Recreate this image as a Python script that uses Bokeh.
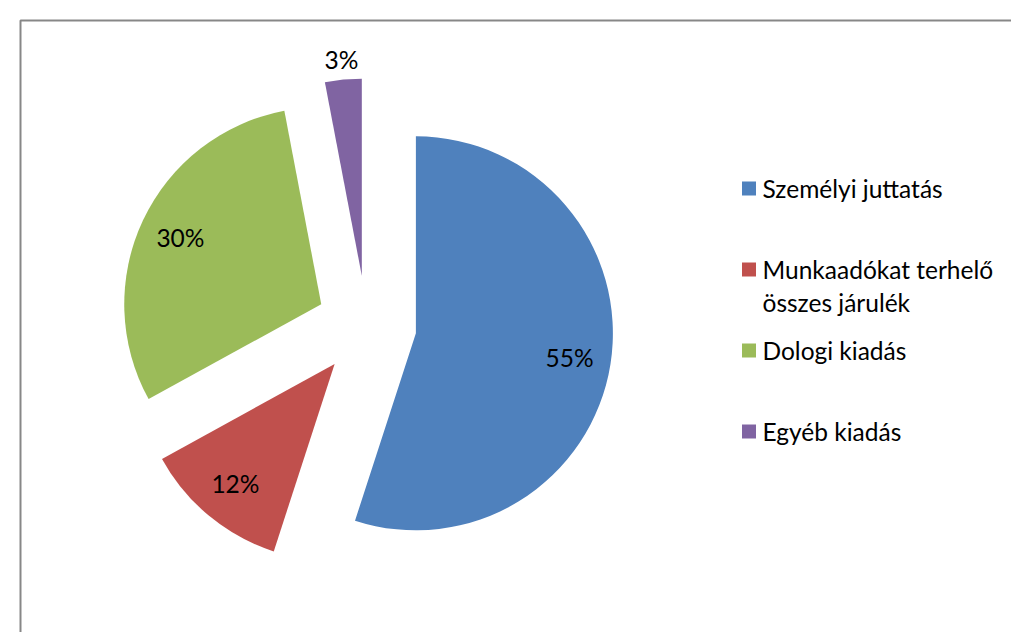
import math
import textwrap
from bokeh.plotting import figure
from bokeh.models import Range1d, ColumnDataSource
from bokeh.core.properties import value
from bokeh.embed import file_html
from bokeh.resources import INLINE

# ---- data ----
categories = ["Személyi juttatás", "Munkaadókat terhelő összes járulék", "Dologi kiadás", "Egyéb kiadás"]
shares = [55, 12, 30, 3]
share_labels = ["55%", "12%", "30%", "3%"]
colors = ["#4F81BD", "#C0504D", "#9BBB59", "#8064A2"]

W, H = 1011, 632
FONT = "Lato"
FS = "24.5px"

def to_data(px, py):
    # page pixel -> data coords (y up)
    return px, H - py

p = figure(width=W, height=H, output_backend="svg", toolbar_location=None,
           x_range=Range1d(0, W), y_range=Range1d(0, H), min_border=0)
p.axis.visible = False
p.grid.visible = False
p.outline_line_color = None
p.background_fill_color = "white"
p.border_fill_color = "white"

# chart border (continues past the visible area on the right and bottom)
bx, by = to_data(20, 20)
p.quad(left=bx, right=W + 50, top=by, bottom=-50, fill_alpha=0,
       line_color="#878787", line_width=2)

# ---- exploded pie ----
cx, cy = to_data(366, 325)
radius = 197
explode = 50
total = sum(shares)

starts, ends, xs, ys, lx, ly = [], [], [], [], [], []
cum = 0.0
for s in shares:
    a0 = cum / total
    a1 = (cum + s) / total
    cum += s
    t0 = math.pi / 2 - 2 * math.pi * a0
    t1 = math.pi / 2 - 2 * math.pi * a1
    tm = (t0 + t1) / 2
    ox = cx + explode * math.cos(tm)
    oy = cy + explode * math.sin(tm)
    starts.append(t1)
    ends.append(t0)
    xs.append(ox)
    ys.append(oy)
    frac = s / total
    lr = radius * (0.79 if frac >= 0.05 else 1.1)
    lx.append(ox + lr * math.cos(tm))
    ly.append(oy + lr * math.sin(tm))

src = ColumnDataSource(dict(x=xs, y=ys, start=starts, end=ends, color=colors,
                            lx=lx, ly=ly, lab=share_labels))
p.wedge(x="x", y="y", radius=radius, start_angle="start", end_angle="end",
        fill_color="color", line_color=None, source=src)
p.text(x="lx", y="ly", text="lab", source=src, text_font=value(FONT),
       text_font_size=FS, text_align="center", text_baseline="middle",
       text_color="black")

# ---- legend ----
leg_x, leg_y0 = to_data(748.5, 188)
row_step = 81
line_h = 33
mx, my, mc = [], [], []
tx, ty, tt = [], [], []
for i, (cat, col) in enumerate(zip(categories, colors)):
    y = leg_y0 - i * row_step
    mx.append(leg_x)
    my.append(y)
    mc.append(col)
    for j, line in enumerate(textwrap.wrap(cat, 20)):
        tx.append(leg_x + 13.5)
        ty.append(y - j * line_h)
        tt.append(line)

p.scatter(x=mx, y=my, marker="square", size=14, fill_color=mc, line_color=None)
p.text(x=tx, y=ty, text=tt, text_font=value(FONT), text_font_size=FS,
       text_align="left", text_baseline="middle", text_color="black")

open("out.html", "w").write(file_html(p, INLINE))
